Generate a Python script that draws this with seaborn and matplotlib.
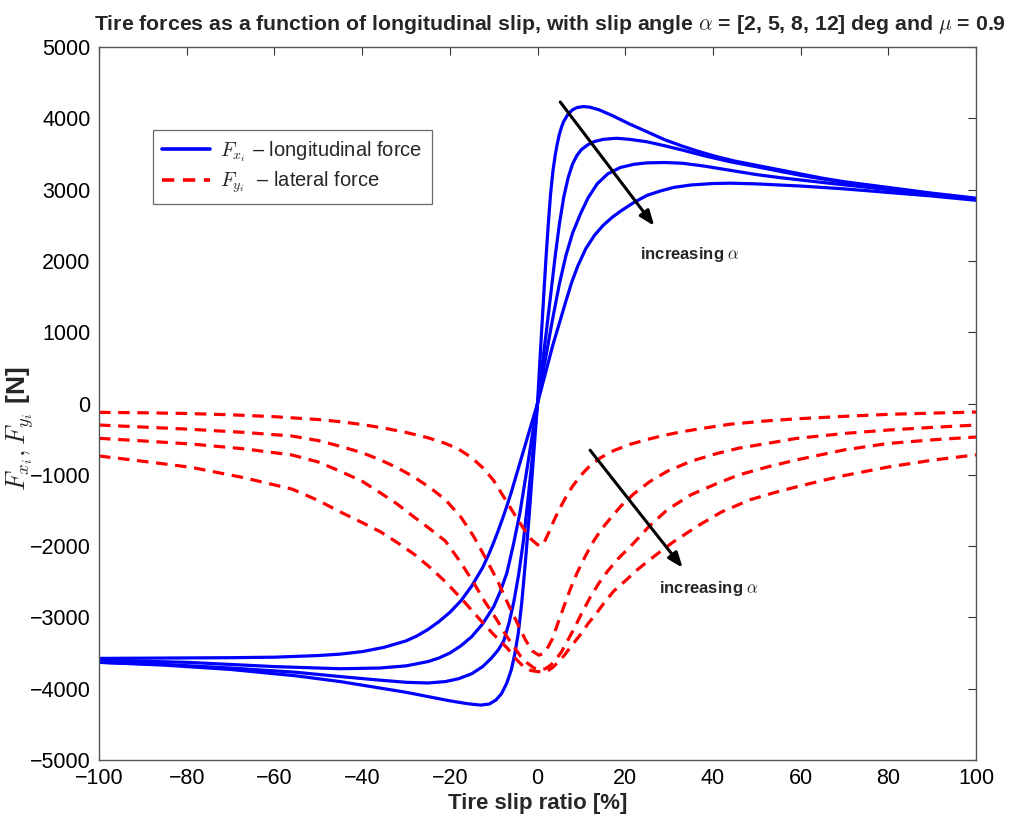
import numpy as np
import pandas as pd
import matplotlib
matplotlib.use("Agg")
import matplotlib.pyplot as plt
import seaborn as sns
from matplotlib.lines import Line2D
from matplotlib import font_manager

# ---------------- data ----------------
alphas = [2, 5, 8, 12]

# longitudinal force Fx [N] vs slip ratio [%]
fx_x_a2 = [-100, -85, -70, -60, -50, -45, -40, -35, -30, -27.5, -25, -22.5, -20, -17.5, -15, -12.5, -11, -10, -9, -8, -7, -6, -5, -2.5, 0,
           0.5, 1, 1.5, 2, 2.5, 3, 3.5, 4, 4.5, 5, 5.5, 6, 7, 8, 9, 10.5, 12, 14, 17, 21, 25, 29, 33, 37, 41, 45,
           50, 55, 60, 65, 70, 80, 90, 100]
fx_y_a2 = [-3575, -3570, -3565, -3558, -3535, -3515, -3480, -3420, -3330, -3260, -3170, -3060, -2930, -2770, -2560, -2300, -2100, -1950, -1790, -1620, -1440, -1250, -1040, -520, 0,
           550, 1080, 1600, 2100, 2550, 2950, 3250, 3470, 3640, 3780, 3880, 3960, 4060, 4120, 4150, 4165, 4155, 4120, 4040, 3920, 3810, 3700, 3610, 3530, 3460, 3400,
           3340, 3280, 3220, 3160, 3110, 3030, 2950, 2880]

fx_x_a5 = [-100, -80, -60, -45, -36, -30, -25, -22.5, -20, -17.5, -15, -12.5, -10, -8.5, -7, -5.5, -4, -2.5, -1.2, 0,
           1, 2, 3, 4, 5, 6, 7, 8, 9, 10, 11.5, 13, 15, 18, 21, 25, 29, 33, 38, 44, 50, 55, 60, 65, 70, 80, 90, 100]
fx_y_a5 = [-3600, -3630, -3690, -3720, -3710, -3680, -3620, -3570, -3500, -3400, -3270, -3090, -2850, -2640, -2380, -1980, -1530, -960, -450, 0,
           500, 1000, 1520, 2050, 2520, 2900, 3170, 3360, 3480, 3560, 3630, 3675, 3705, 3720, 3705, 3670, 3615, 3555, 3475, 3390, 3320, 3260, 3200, 3150, 3100, 3020, 2940, 2870]

fx_x_a8 = [-100, -85, -70, -55, -45, -36, -30, -25, -21, -18, -15, -12.5, -10.5, -9, -7.7, -6.5, -5.4, -4.3, -3.2, -2.3, -1.3, 0,
           1.5, 3.4, 5, 6.5, 8, 9.8, 11.5, 13.6, 16, 18.9, 22, 25, 29, 33, 38, 44, 50, 55, 65, 80, 90, 100]
fx_y_a8 = [-3630, -3660, -3710, -3770, -3830, -3880, -3910, -3920, -3900, -3860, -3790, -3690, -3570, -3460, -3330, -3080, -2780, -2400, -1920, -1420, -830, 0,
           520, 1170, 1680, 2080, 2390, 2660, 2880, 3080, 3220, 3310, 3355, 3375, 3380, 3370, 3330, 3270, 3210, 3170, 3100, 3000, 2930, 2860]

fx_x_a12 = [-100, -85, -70, -55, -45, -36, -30, -25, -20, -16, -13, -11, -9.5, -8.2, -7, -6, -5.2, -4.4, -3.6, -2.8, -2, -1, 0,
            2, 3.5, 5.2, 6.5, 7.8, 9.2, 11, 13, 15, 17, 19, 22, 25, 28, 31, 35, 40, 44, 50, 60, 70, 80, 90, 100]
fx_y_a12 = [-3630, -3670, -3730, -3820, -3900, -3990, -4050, -4110, -4170, -4210, -4230, -4215, -4160, -4070, -3920, -3740, -3520, -3230, -2800, -2250, -1650, -820, 0,
            470, 820, 1170, 1440, 1700, 1930, 2170, 2360, 2500, 2610, 2700, 2820, 2920, 2980, 3030, 3065, 3085, 3090, 3080, 3050, 3010, 2960, 2910, 2850]

# lateral force Fy [N] vs slip ratio [%]
fy_x_a2 = [-100, -90, -80, -70, -60, -50, -45, -40, -35, -30, -25, -21, -18, -15, -12.5, -10, -7.5, -5, -3, -1.5, 0, 0.7,
           1.5, 2.5, 3.7, 5, 6.5, 8, 10, 12, 14.4, 17.4, 21, 25, 29, 33, 38, 44, 52, 59, 70, 80, 90, 100]
fy_y_a2 = [-124, -130, -140, -158, -185, -225, -255, -295, -345, -405, -480, -560, -640, -760, -900, -1080, -1330, -1580, -1770, -1900, -1980, -2000,
           -1950, -1820, -1648, -1480, -1310, -1160, -1000, -870, -760, -660, -575, -505, -445, -395, -345, -290, -245, -215, -180, -152, -135, -120]

fy_x_a5 = [-100, -90, -79, -67, -56, -50, -45, -40, -35.8, -32, -28.2, -24.5, -21, -17.5, -14.5, -12, -9.2, -6.8, -4.6, -2.8, -1.2, 0.3,
           1.2, 2.2, 3.4, 4.6, 6, 7.5, 9, 11, 12.8, 14.5, 16.5, 19, 21.9, 25.5, 29.6, 35, 41, 46, 52.4, 59, 70, 80, 90, 100]
fy_y_a5 = [-302, -330, -362, -405, -456, -520, -600, -690, -792, -900, -1030, -1180, -1350, -1590, -1870, -2150, -2475, -2800, -3080, -3310, -3470, -3530,
           -3510, -3440, -3300, -3090, -2850, -2600, -2380, -2130, -1930, -1770, -1620, -1440, -1270, -1100, -950, -810, -700, -625, -560, -490, -420, -372, -335, -302]

fy_x_a8 = [-100, -90, -79, -67, -56, -50, -45, -40, -35.8, -32, -28.2, -24.5, -21, -17.5, -14.5, -12, -9.2, -7.2, -5.4, -3.8, -2.3, -0.8,
           0.5, 1.8, 3, 4.2, 5.5, 7, 8.5, 10, 12, 14, 16, 18.5, 21.9, 25.5, 29.6, 35, 41, 46, 52.4, 59, 70, 80, 90, 100]
fy_y_a8 = [-488, -525, -568, -635, -722, -820, -950, -1090, -1255, -1410, -1590, -1760, -1930, -2230, -2520, -2780, -3040, -3250, -3410, -3550, -3640, -3710,
           -3735, -3720, -3670, -3590, -3480, -3310, -3140, -2950, -2720, -2520, -2350, -2170, -1960, -1720, -1490, -1280, -1120, -1000, -890, -792, -650, -560, -510, -470]

fy_x_a12 = [-100, -90, -79, -67, -56, -50, -45, -40, -35.8, -32, -28, -24.5, -21, -17, -13, -10, -6.9, -4.8, -3.2, -1.5, 0,
            1.2, 2.3, 3.4, 4.5, 6, 7.5, 9.8, 11.5, 13.6, 15.5, 17.4, 20.5, 22.8, 25, 27.3, 31, 37, 42, 48.5, 54, 59, 65, 70, 80, 90, 100]
fy_y_a12 = [-736, -810, -895, -1040, -1200, -1360, -1520, -1670, -1800, -1950, -2120, -2300, -2500, -2760, -3040, -3240, -3430, -3590, -3690, -3745, -3760,
            -3765, -3750, -3705, -3640, -3540, -3420, -3240, -3090, -2930, -2770, -2630, -2460, -2330, -2220, -2110, -1940, -1700, -1520, -1350, -1250, -1170, -1080, -1010, -890, -795, -720]

x_ticks = [-100, -80, -60, -40, -20, 0, 20, 40, 60, 80, 100]
y_ticks = [-5000, -4000, -3000, -2000, -1000, 0, 1000, 2000, 3000, 4000, 5000]

title_text = r"Tire forces as a function of longitudinal slip, with slip angle $\alpha$ = [2, 5, 8, 12] deg and $\mu$ = 0.9"
xlabel_text = "Tire slip ratio [%]"
ylabel_text = r"$F_{x_i}, F_{y_i}$ [N]"
legend_labels = [r"$F_{x_i}$ – longitudinal force", r"$F_{y_i}$  – lateral force"]
annot_text = r"increasing $\alpha$"

# ---------------- long-form frames ----------------
fx_sets = [(fx_x_a2, fx_y_a2), (fx_x_a5, fx_y_a5), (fx_x_a8, fx_y_a8), (fx_x_a12, fx_y_a12)]
fy_sets = [(fy_x_a2, fy_y_a2), (fy_x_a5, fy_y_a5), (fy_x_a8, fy_y_a8), (fy_x_a12, fy_y_a12)]

def long_frame(sets):
    parts = []
    for a, (xs, ys) in zip(alphas, sets):
        parts.append(pd.DataFrame({"slip": xs, "force": ys, "alpha": a}))
    return pd.concat(parts, ignore_index=True)

df_fx = long_frame(fx_sets)
df_fy = long_frame(fy_sets)

# ---------------- style ----------------
sns.set_style("white")
available = {f.name for f in font_manager.fontManager.ttflist}
base_font = "Liberation Sans" if "Liberation Sans" in available else "DejaVu Sans"
narrow_font = "Liberation Sans Narrow" if "Liberation Sans Narrow" in available else base_font
plt.rcParams["font.family"] = [base_font, "DejaVu Sans"]
plt.rcParams["mathtext.fontset"] = "cm"
plt.rcParams["axes.unicode_minus"] = True

fig = plt.figure(figsize=(10.17, 8.26), dpi=100)
ax = fig.add_axes([99 / 1017, 1 - 760 / 826, 877 / 1017, 713 / 826])

sns.lineplot(data=df_fx, x="slip", y="force", hue="alpha", palette=["#0000ff"] * 4,
             estimator=None, sort=False, legend=False, linewidth=2.3, ax=ax)
sns.lineplot(data=df_fy, x="slip", y="force", hue="alpha", palette=["#ff0000"] * 4,
             estimator=None, sort=False, legend=False, linewidth=2.3,
             linestyle=(0, (3.6, 2.4)), ax=ax)

ax.set_xlim(-100, 100)
ax.set_ylim(-5000, 5000)
ax.set_xticks(x_ticks)
ax.set_yticks(y_ticks)
ax.tick_params(direction="in", top=True, right=True, length=6, width=0.8,
               colors="#333333", labelcolor="black", labelsize=15.5, pad=6)
for sp in ax.spines.values():
    sp.set_visible(True)
    sp.set_color("#555555")
    sp.set_linewidth(1.0)

ax.set_title(title_text, fontsize=15.3, fontweight="bold", family=[narrow_font, "DejaVu Sans"], pad=12, x=0.514)
ax.set_xlabel(xlabel_text, fontsize=16, fontweight="bold", family=[narrow_font, "DejaVu Sans"], labelpad=3)
ax.set_ylabel(ylabel_text, fontsize=19, fontweight="bold")
ax.yaxis.set_label_coords(-0.072, 0.465)

# arrows and annotations
ax.annotate("", xy=(27.0, 2460), xytext=(4.8, 4260),
            arrowprops=dict(arrowstyle="-|>,head_length=0.9,head_width=0.35", color="black", lw=2.2))
ax.text(23.3, 2085, annot_text, fontsize=12, fontweight="bold", ha="left", va="center")
ax.annotate("", xy=(33.5, -2335), xytext=(11.6, -624),
            arrowprops=dict(arrowstyle="-|>,head_length=0.9,head_width=0.35", color="black", lw=2.2))
ax.text(27.8, -2588, annot_text, fontsize=12, fontweight="bold", ha="left", va="center")

handles = [Line2D([0], [0], color="#0000ff", lw=2.6),
           Line2D([0], [0], color="#ff0000", lw=2.6, linestyle=(0, (3.4, 2.4)))]
leg = ax.legend(handles, legend_labels, loc="upper left", bbox_to_anchor=(0.0615, 0.884),
                borderaxespad=0, frameon=True, fancybox=False, fontsize=14.5,
                handlelength=2.4, handletextpad=0.5, borderpad=0.45, labelspacing=0.3)
leg.get_frame().set_edgecolor("#444444")
leg.get_frame().set_linewidth(0.9)

fig.savefig("out.png", dpi=100)
